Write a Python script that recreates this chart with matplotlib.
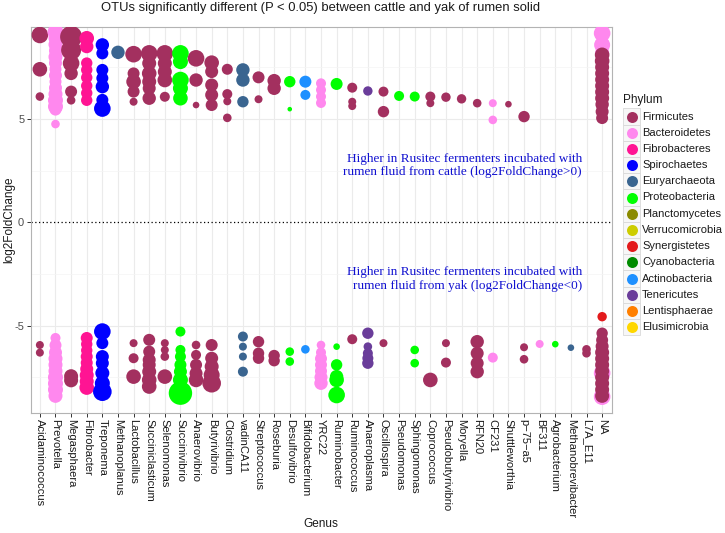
import matplotlib
matplotlib.use("Agg")
import matplotlib.pyplot as plt
from matplotlib.patches import Rectangle
from matplotlib.lines import Line2D

plt.rcParams['font.family'] = ['Liberation Sans', 'DejaVu Sans']

# ---------------- data ----------------
genera = ["Acidaminococcus", "Prevotella", "Megasphaera", "Fibrobacter", "Treponema",
          "Methanoplanus", "Lactobacillus", "Succiniclasticum", "Selenomonas", "Succinivibrio",
          "Anaerovibrio", "Butyrivibrio", "Clostridium", "vadinCA11", "Streptococcus",
          "Roseburia", "Desulfovibrio", "Bifidobacterium", "YRC22", "Ruminobacter",
          "Ruminococcus", "Anaeroplasma", "Oscillospira", "Pseudomonas", "Sphingomonas",
          "Coprococcus", "Pseudobutyrivibrio", "Moryella", "RFN20", "CF231",
          "Shuttleworthia", "p\u221275\u2212a5", "BF311", "Agrobacterium", "Methanobrevibacter",
          "L7A_E11", "NA"]

phyla = ["Firmicutes", "Bacteroidetes", "Fibrobacteres", "Spirochaetes", "Euryarchaeota",
         "Proteobacteria", "Planctomycetes", "Verrucomicrobia", "Synergistetes", "Cyanobacteria",
         "Actinobacteria", "Tenericutes", "Lentisphaerae", "Elusimicrobia"]
phylum_colors = ["#A3305F", "#FF88EE", "#FF1493", "#0000FF", "#3A6590",
                 "#00FF00", "#8B8B00", "#CDCD00", "#E31A1C", "#008B00",
                 "#1E90FF", "#6A3D9A", "#FF7F00", "#FFD700"]

# points: genus, phylum, log2FoldChange, relative abundance (marker size variable)
pt_genus = []
pt_phylum = []
pt_lfc = []
pt_abund = []

def add(g, p, lfcs, abunds):
    for v, a in zip(lfcs, abunds):
        pt_genus.append(g); pt_phylum.append(p); pt_lfc.append(v); pt_abund.append(a)

add("Acidaminococcus", "Firmicutes", [9.06, 7.4, 6.08, -5.94, -6.31], [8.3, 7.3, 4.3, 4, 4])
add("Prevotella", "Bacteroidetes",
    [9.2, 8.9, 8.6, 8.3, 8.0, 7.7, 7.4, 7.1, 6.8, 6.5, 6.2, 5.9, 5.6, 5.45, 4.75,
     -5.6, -5.95, -6.3, -6.6, -6.9, -7.2, -7.5, -7.8, -8.1, -8.4],
    [8, 7, 7, 6.5, 7, 6.5, 6, 6.5, 6, 6.5, 7, 7.5, 7.5, 6, 4.3,
     5, 6, 6.5, 7, 7, 7, 7.5, 7.5, 7.5, 7])
add("Megasphaera", "Firmicutes", [8.97, 8.33, 7.69, 7.2, 6.32, 5.9, -7.45, -7.65],
    [11, 10, 8.3, 6.7, 6, 4.3, 7, 7])
add("Fibrobacter", "Fibrobacteres",
    [8.9, 8.5, 7.7, 7.37, 7.0, 6.6, 6.25, 5.9,
     -5.6, -5.9, -6.2, -6.5, -6.8, -7.1, -7.4, -7.7, -8.0],
    [7.3, 6.7, 5.7, 5.7, 5.7, 5.7, 5.7, 5.7, 6, 5.7, 5.7, 6, 6, 6.5, 7, 7, 7.3])
add("Treponema", "Spirochaetes",
    [8.58, 8.17, 7.37, 6.97, 6.56, 5.92, 5.5, -5.29, -5.85, -6.5, -6.82, -7.3, -7.79, -8.2],
    [6.7, 6, 6, 6, 6.7, 6, 8.3, 8.3, 6, 6.5, 6.5, 7, 7.5, 9.3])
add("Methanoplanus", "Euryarchaeota", [8.22], [6.7])
add("Lactobacillus", "Firmicutes", [8.13, 7.2, 6.8, 6.32, 5.83, -5.85, -6.58, -7.47],
    [8.3, 6, 7.3, 6, 4, 4, 5, 7.3])
add("Succiniclasticum", "Firmicutes",
    [8.17, 7.69, 7.2, 6.8, 6.48, 6.0, -5.69, -6.26, -6.66, -6.9, -7.23, -7.63, -7.95],
    [8.3, 7, 7.3, 7, 6.5, 6.7, 6, 6, 6.5, 6.5, 7, 7.3, 7.3])
add("Selenomonas", "Firmicutes", [8.17, 7.69, 7.28, 6.88, 6.07, -5.85, -6.18, -6.5, -7.47],
    [8.3, 7, 7, 7.3, 5, 4, 4, 4.3, 7.3])
add("Succinivibrio", "Proteobacteria",
    [8.17, 7.77, 6.88, 6.48, 6.0, -5.29, -6.18, -6.5, -6.9, -7.23, -7.63, -8.27],
    [8.3, 7.5, 8.3, 7.5, 7.3, 5, 5, 5.5, 6, 6.5, 7.5, 11.7])
add("Anaerovibrio", "Firmicutes", [7.93, 6.88, 5.67, -5.94, -6.42, -6.9, -7.31, -7.63],
    [8.3, 6.7, 3.3, 4.3, 5, 6, 6.5, 7.3])
add("Butyrivibrio", "Firmicutes",
    [7.72, 7.29, 6.64, 6.16, 5.67, -5.94, -6.58, -6.98, -7.39, -7.79],
    [7.3, 6.5, 6.5, 6.5, 6, 6, 6.5, 7, 8, 9.3])
add("Clostridium", "Firmicutes", [7.4, 6.2, 5.85, 5.05], [5.5, 5, 4, 4.3])
add("vadinCA11", "Euryarchaeota", [7.37, 6.88, 5.83, -5.53, -6.02, -6.5, -7.23],
    [6.7, 6.7, 5.7, 5, 4, 4, 5])
add("Streptococcus", "Firmicutes", [7.01, 5.95, -5.78, -6.34, -6.58], [6, 4, 5.7, 5.7, 5.7])
add("Roseburia", "Firmicutes", [6.85, 6.48, -6.45, -6.7], [6.7, 6.7, 5.7, 5.7])
add("Desulfovibrio", "Proteobacteria", [6.8, 5.47, -6.26, -6.74], [5.7, 2.3, 4.3, 4.3])
add("Bifidobacterium", "Actinobacteria", [6.8, 6.16, -6.15], [6, 5, 4.3])
add("YRC22", "Bacteroidetes",
    [6.72, 6.4, 6.08, 5.77, -5.94, -6.3, -6.6, -6.9, -7.2, -7.5, -7.79],
    [5, 5, 5, 5, 4.3, 5, 6, 6, 6, 6.5, 6.7])
add("Ruminobacter", "Proteobacteria", [6.69, -6.02, -6.9, -7.47, -7.63, -8.36],
    [6, 3.3, 5.7, 6.7, 7.3, 8.3])
add("Ruminococcus", "Firmicutes", [6.51, 5.83, 5.62, -5.66], [5, 4, 4, 5])
add("Anaeroplasma", "Tenericutes", [6.35, -5.37, -6.02, -6.34, -6.58, -6.82],
    [4.7, 5.7, 4.3, 5, 5.5, 5.7])
add("Oscillospira", "Firmicutes", [6.32, 5.35, -5.85], [5, 5.7, 4])
add("Pseudomonas", "Proteobacteria", [6.11], [5])
add("Sphingomonas", "Proteobacteria", [6.08, -6.18, -6.82], [5, 4.3, 4.3])
add("Coprococcus", "Firmicutes", [6.08, 5.76, -7.63], [5, 4, 7.3])
add("Pseudobutyrivibrio", "Firmicutes", [6.05, -5.85, -6.79], [4.7, 4, 5])
add("Moryella", "Firmicutes", [5.97], [4.7])
add("RFN20", "Firmicutes", [5.76, -5.78, -6.34, -6.82, -7.23], [4.3, 6.7, 6.5, 6.5, 6.7])
add("CF231", "Bacteroidetes", [5.76, 4.95, -6.55], [4, 4.3, 5])
add("Shuttleworthia", "Firmicutes", [5.71], [3.3])
add("p\u221275\u2212a5", "Firmicutes", [5.11, -6.05, -6.63], [5.7, 4, 4.3])
add("BF311", "Bacteroidetes", [-5.89], [4])
add("Agrobacterium", "Proteobacteria", [-5.9], [3.3])
add("Methanobrevibacter", "Euryarchaeota", [-6.07], [3.3])
add("L7A_E11", "Firmicutes", [-6.15, -6.34], [4.3, 4.3])
add("NA", "Bacteroidetes", [9.14, 8.58, 8.2, 5.67, -7.3, -8.44], [8.3, 8, 7, 6, 8.3, 8.3])
add("NA", "Proteobacteria", [5.55], [5])
add("NA", "Synergistetes", [-4.57], [4.7])
add("NA", "Firmicutes",
    [8.1, 7.8, 7.5, 7.2, 6.9, 6.6, 6.3, 6.0, 5.7, 5.35, 5.04,
     -5.37, -5.7, -6.0, -6.3, -6.6, -6.9, -7.2, -7.5, -7.8, -8.1, -8.4],
    [7.3, 7.3, 7, 7, 7, 7, 7, 7, 6.7, 6.5, 6,
     5.7, 6, 6.5, 7, 7, 7, 7, 7, 7, 7, 7])

title = "OTUs significantly different (P < 0.05) between cattle and yak of rumen solid"
note_up = "Higher in Rusitec fermenters incubated with\nrumen fluid from cattle (log2FoldChange>0)"
note_down = "Higher in Rusitec fermenters incubated with\nrumen fluid from yak (log2FoldChange<0)"

# ---------------- figure ----------------
W, H = 725, 533
DPI = 100
fig = plt.figure(figsize=(W / DPI, H / DPI), dpi=DPI)

def fx(px):
    return px / W

def fy(py):
    return 1 - py / H

pl, pr, pt, pb = 30.5, 611.5, 26.7, 413.0
ax = fig.add_axes([fx(pl), fy(pb), fx(pr) - fx(pl), fy(pt) - fy(pb)])
ax.set_facecolor("white")

n = len(genera)
ax.set_xlim(-0.6, n - 1 + 0.6)
ax.set_ylim(-9.23, 9.46)

# grid
for i in range(n):
    ax.axvline(i, color="#EBEBEB", lw=0.8, zorder=0)
for v in [-5, 5]:
    ax.axhline(v, color="#EBEBEB", lw=0.8, zorder=0)
for v in [-7.5, -2.5, 2.5, 7.5]:
    ax.axhline(v, color="#F4F4F4", lw=0.5, zorder=0)
ax.axhline(0, color="black", lw=0.9, ls=(0, (1, 2)), zorder=1)

xs = [genera.index(g) for g in pt_genus]
cols = [phylum_colors[phyla.index(p)] for p in pt_phylum]
px2pt = 72.0 / DPI
sizes = [(2 * a * px2pt) ** 2 for a in pt_abund]
ax.scatter(xs, pt_lfc, s=sizes, c=cols, linewidths=0, zorder=3)

# annotations
serif = ["Liberation Serif", "DejaVu Serif"]
ax.text(34.7, 2.74, note_up, ha="right", va="center", color="#1010D0",
        family=serif, fontsize=9.5, linespacing=1.2, zorder=4)
ax.text(34.7, -2.74, note_down, ha="right", va="center", color="#1010D0",
        family=serif, fontsize=9.5, linespacing=1.2, zorder=4)

# axes styling
for s in ax.spines.values():
    s.set_color("#B3B3B3")
    s.set_linewidth(0.8)
ax.set_xticks(range(n))
ax.set_xticklabels(genera, rotation=-90, fontsize=8, color="#1A1A1A")
ax.set_yticks([-5, 0, 5])
ax.set_yticklabels(["-5", "0", "5"], fontsize=8, color="#4D4D4D")
ax.tick_params(axis="both", length=3, width=0.7, color="#333333", pad=1.5)

fig.text(fx(9.5), fy((pt + pb) / 2), "log2FoldChange", rotation=90, ha="center", va="center",
         fontsize=8.5, color="#1A1A1A")
fig.text(fx((pl + pr) / 2), fy(524), "Genus", ha="center", va="center",
         fontsize=8.5, color="#1A1A1A")
fig.text(fx((pl + pr) / 2), fy(7.5), title, ha="center", va="center", fontsize=9.4,
         color="#1A1A1A")

# legend (manual)
fig.text(fx(623), fy(100), "Phylum", ha="left", va="center", fontsize=8.5, color="#1A1A1A")
y0, dy = 116.5, 16.2
for k, (name, col) in enumerate(zip(phyla, phylum_colors)):
    yc = y0 + k * dy
    fig.patches.append(Rectangle((fx(623), fy(yc + 8.1)), fx(17.3), fy(0) - fy(16.2),
                                 transform=fig.transFigure, facecolor="#F7F7F7",
                                 edgecolor="#D9D9D9", lw=0.6))
    fig.lines.append(Line2D([fx(631.7)], [fy(yc)], transform=fig.transFigure, marker="o",
                            markersize=11 * px2pt, markerfacecolor=col,
                            markeredgewidth=0, linestyle="none"))
    fig.text(fx(642), fy(yc), name, ha="left", va="center", fontsize=8, color="#1A1A1A")

fig.savefig("out.png", dpi=DPI)
